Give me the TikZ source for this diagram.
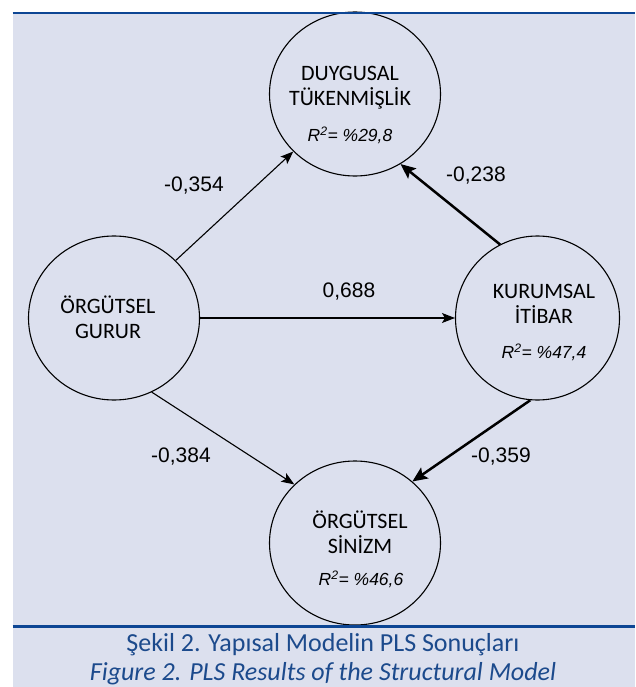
\documentclass[tikz,border=0pt]{standalone}
\usepackage{fontspec}
\setmainfont{Carlito}
\newfontfamily\arialf{Liberation Sans}
\usetikzlibrary{shapes.geometric,arrows.meta}
\definecolor{bgc}{RGB}{220,224,238}
\definecolor{rulec}{RGB}{13,70,148}
\definecolor{capc}{RGB}{28,74,140}
\begin{document}
\begin{tikzpicture}[x=1pt,y=-1pt,
  lv/.style={draw=black, line width=1.1pt, ellipse, minimum width=171pt, minimum height=164pt, inner sep=0pt},
  nt/.style={font=\fontsize{22}{25}\selectfont, align=center, inner sep=0pt},
  rs/.style={font=\arialf\itshape\fontsize{17.5}{20}\selectfont, inner sep=0pt},
  coef/.style={font=\arialf\fontsize{21}{24}\selectfont, inner sep=0pt},
  thinarr/.style={line width=1.1pt, -{Stealth[length=13pt,width=10pt,inset=3pt]}},
  thickarr/.style={line width=2.5pt, -{Stealth[length=15pt,width=13pt,inset=3pt]}},
  captext/.style={font=\fontsize{26}{29}\selectfont, text=capc, inner sep=0pt, anchor=base}]
\useasboundingbox (0,0) rectangle (635,687);
\fill[white] (0,0) rectangle (635,687);
\fill[bgc] (12.5,13) rectangle (635,687);
% latent variables
\node[lv] (dt) at (355,94) {};
\node[lv] (og) at (114,318) {};
\node[lv, minimum width=164pt] (ki) at (537.5,318) {};
\node[lv] (os) at (355,543) {};
% texts
\node[nt] (dtt) at (350,88) {DUYGUSAL\\TÜKENMİŞLİK};
\node[rs] (dtr) at (350,135) {R\textsuperscript{2}= \%29,8};
\node[nt] (ogt) at (108,317) {ÖRGÜTSEL\\GURUR};
\node[nt] (kit) at (544,304) {KURUMSAL\\İTİBAR};
\node[rs] (kir) at (544,352) {R\textsuperscript{2}= \%47,4};
\node[nt] (ost) at (360,532) {ÖRGÜTSEL\\SİNİZM};
\node[rs] (osr) at (361,579) {R\textsuperscript{2}= \%46,6};
% paths
\draw[thinarr] (og.43.6) -- (dt.223.6);
\draw[thinarr] (og.east) -- (ki.west);
\draw[thinarr] (og.-63) -- (os.136.5);
\draw[thickarr] (ki.117.5) -- (dt.303);
\draw[thickarr] (ki.265) -- (os.47.4);
% coefficients
\node[coef] (c1) at (194,186) {-0,354};
\node[coef] (c2) at (349,292) {0,688};
\node[coef] (c3) at (476,176) {-0,238};
\node[coef] (c4) at (181,457) {-0,384};
\node[coef] (c5) at (501,457) {-0,359};
% rules
\draw[rulec, line width=2.6pt] (12.5,13) -- (635,13);
\draw[rulec, line width=2.6pt] (12.5,626.5) -- (635,626.5);
% caption
\node[captext] (cap1) at (323,651) {Şekil 2. Yapısal Modelin PLS Sonuçları};
\node[captext, font=\fontsize{26}{29}\selectfont\itshape] (cap2) at (323,680) {Figure 2. PLS Results of the Structural Model};
\end{tikzpicture}
\end{document}
